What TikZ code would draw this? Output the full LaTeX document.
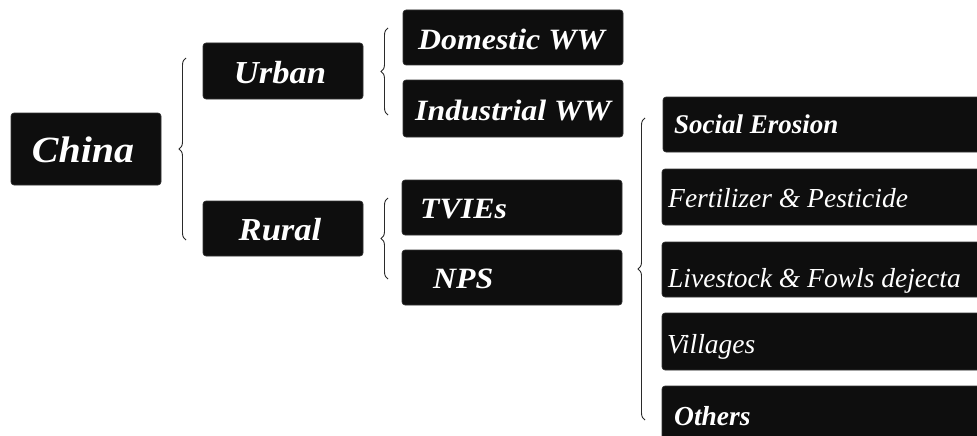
\documentclass[tikz,border=0pt]{standalone}
\usepackage{fontspec}
\setmainfont{Liberation Serif}
\newfontfamily\bifont[FakeStretch=1.08]{Liberation Serif}
\usetikzlibrary{decorations.pathreplacing}
\definecolor{boxfill}{HTML}{0E0E0E}
\definecolor{bracecol}{HTML}{2A2A2A}
\tikzset{
  boxnode/.style={draw=black!80, fill=boxfill, rounded corners=3pt, inner sep=0pt, line width=0.6pt},
  lbl/.style={text=white, inner sep=0pt},
  bigbrace/.style={draw=bracecol, line width=0.9pt, decorate, decoration={brace, amplitude=7pt}},
}
\begin{document}
\begin{tikzpicture}[x=1pt, y=-1pt]
\useasboundingbox (0,0) rectangle (977,436);
\clip (0,0) rectangle (977,436);
% left level
\node[boxnode, minimum width=150pt, minimum height=72pt] (china) at (86,149) {};
\node[lbl, anchor=base, font=\bifont\bfseries\itshape\fontsize{37}{39}\selectfont] (chinaT) at (83,162) {China};
\node[boxnode, minimum width=160pt, minimum height=56pt] (urban) at (283,71) {};
\node[lbl, anchor=base, font=\bifont\bfseries\itshape\fontsize{32}{34}\selectfont] (urbanT) at (280,83) {Urban};
\node[boxnode, minimum width=160pt, minimum height=55pt] (rural) at (283,228.5) {};
\node[lbl, anchor=base, font=\bifont\bfseries\itshape\fontsize{32}{34}\selectfont] (ruralT) at (280,240) {Rural};
% middle level
\tikzset{midlbl/.style={lbl, anchor=base west, font=\bifont\bfseries\itshape\fontsize{29.5}{31}\selectfont}}
\node[boxnode, minimum width=220pt, minimum height=55pt] (dom) at (513,37.5) {};
\node[midlbl] (domT) at (418,50) {Domestic WW};
\node[boxnode, minimum width=220pt, minimum height=57pt] (ind) at (513,108.5) {};
\node[midlbl] (indT) at (415,120) {Industrial WW};
\node[boxnode, minimum width=220pt, minimum height=55pt] (tvie) at (512,207.5) {};
\node[midlbl] (tvieT) at (420,218) {TVIEs};
\node[boxnode, minimum width=220pt, minimum height=55pt] (nps) at (512,277.5) {};
\node[midlbl] (npsT) at (433,288) {NPS};
% right level
\tikzset{rlbl/.style={lbl, anchor=base west, font=\itshape\fontsize{27.5}{29}\selectfont}}
\node[boxnode, minimum width=330pt, minimum height=55pt] (soc) at (828,124.5) {};
\node[rlbl, font=\bfseries\itshape\fontsize{27}{29}\selectfont] (socT) at (674,133) {Social Erosion};
\node[boxnode, minimum width=330pt, minimum height=56pt] (fert) at (827,197) {};
\node[rlbl] (fertT) at (668,207) {Fertilizer \& Pesticide};
\node[boxnode, minimum width=330pt, minimum height=55pt] (live) at (827,269.5) {};
\node[rlbl] (liveT) at (668,287) {Livestock \& Fowls dejecta};
\node[boxnode, minimum width=330pt, minimum height=57pt] (vill) at (827,341.5) {};
\node[rlbl] (villT) at (667,353) {Villages};
\node[boxnode, minimum width=330pt, minimum height=60pt] (oth) at (827,416) {};
\node[rlbl, font=\bfseries\itshape\fontsize{27.5}{29}\selectfont] (othT) at (674,425) {Others};
% braces
\coordinate (b1t) at (186,58);  \coordinate (b1b) at (186,240);
\coordinate (b2t) at (388,28);  \coordinate (b2b) at (388,115);
\coordinate (b3t) at (388,198); \coordinate (b3b) at (388,279);
\coordinate (b4t) at (645,118); \coordinate (b4b) at (645,420);
\draw[bigbrace] (b1b) -- (b1t);
\draw[bigbrace] (b2b) -- (b2t);
\draw[bigbrace] (b3b) -- (b3t);
\draw[bigbrace] (b4b) -- (b4t);
\end{tikzpicture}
\end{document}
